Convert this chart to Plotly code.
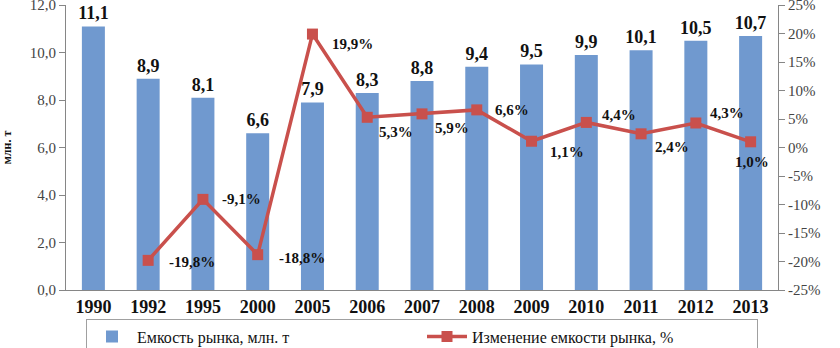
import plotly.graph_objects as go

years = ["1990", "1992", "1995", "2000", "2005", "2006", "2007", "2008", "2009", "2010", "2011", "2012", "2013"]
capacity = [11.1, 8.9, 8.1, 6.6, 7.9, 8.3, 8.8, 9.4, 9.5, 9.9, 10.1, 10.5, 10.7]
change_years = ["1992", "1995", "2000", "2005", "2006", "2007", "2008", "2009", "2010", "2011", "2012", "2013"]
change_pct = [-19.8, -9.1, -18.8, 19.9, 5.3, 5.9, 6.6, 1.1, 4.4, 2.4, 4.3, 1.0]
left_ticks = [0, 2, 4, 6, 8, 10, 12]
right_ticks = [-25, -20, -15, -10, -5, 0, 5, 10, 15, 20, 25]

bar_name = "Емкость рынка, млн. т"
line_name = "Изменение емкости рынка, %"

# label offsets (pixels) for the percentage labels: (xshift of left edge, yshift downwards)
label_offsets = [(19, 2), (17, 0), (19, 3), (18, 10), (10, 15), (11, 14),
                 (16, 0), (16, 11), (14, -7), (12, 13), (12, -10), (-18, 20)]

SERIF = "Times New Roman"
BAR_COLOR = "#7099CF"
LINE_COLOR = "#C9504C"
AXIS_COLOR = "#868686"


def fmt(v):
    return f"{v:.1f}".replace(".", ",")


fig = go.Figure()
fig.add_trace(go.Bar(
    x=years, y=capacity, name=bar_name, marker=dict(color=BAR_COLOR, line=dict(width=0)),
    text=["<b>" + fmt(v) + "</b>" for v in capacity], textposition="outside",
    textfont=dict(family=SERIF, size=18, color="#111111"), cliponaxis=False,
    constraintext="none", width=0.42,
))
fig.add_trace(go.Scatter(
    x=change_years, y=change_pct, name=line_name, yaxis="y2", mode="lines+markers",
    line=dict(color=LINE_COLOR, width=3.5),
    marker=dict(symbol="square", size=11, color=LINE_COLOR),
    cliponaxis=False,
))

for yr, v, (dx, dy) in zip(change_years, change_pct, label_offsets):
    fig.add_annotation(
        x=years.index(yr), y=v, yref="y2", xref="x",
        text="<b>" + fmt(v) + "%</b>",
        showarrow=False, xanchor="left", yanchor="middle",
        xshift=dx, yshift=-dy,
        font=dict(family=SERIF, size=15, color="#111111"),
    )

fig.update_layout(
    width=840, height=348,
    margin=dict(l=66, r=62, t=5, b=58, autoexpand=False),
    paper_bgcolor="white", plot_bgcolor="white",
    font=dict(family=SERIF),
    showlegend=True,
    legend=dict(orientation="h", x=0.5, xanchor="center", y=-0.1, yanchor="top",
                bordercolor="#A0A0A0", borderwidth=1,
                font=dict(family=SERIF, size=16, color="#111111"),
                entrywidth=280, itemwidth=40),
    bargap=0.58,
    xaxis=dict(type="category", categoryorder="array", categoryarray=years,
               range=[-0.5, len(years) - 0.5],
               tickvals=years, ticktext=["<b>" + y + "</b>" for y in years],
               showline=True, linecolor=AXIS_COLOR, linewidth=1,
               ticks="", showgrid=False,
               tickfont=dict(family=SERIF, size=18, color="#111111")),
    yaxis=dict(range=[0, 12.0001], tickvals=left_ticks, ticktext=[fmt(v) for v in left_ticks],
               ticklabeloverflow="allow",
               showline=True, linecolor=AXIS_COLOR, linewidth=1,
               ticks="outside", ticklen=6, tickcolor=AXIS_COLOR, showgrid=False, zeroline=False,
               tickfont=dict(family=SERIF, size=15, color="#444444"),
               title=dict(text="<b>млн. т</b>", standoff=26,
                          font=dict(family="Liberation Sans Narrow", size=12, color="#111111"))),
    yaxis2=dict(range=[-25, 25.0001], tickvals=right_ticks, ticktext=[f"{v}%" for v in right_ticks],
                ticklabeloverflow="allow",
                overlaying="y", side="right",
                showline=True, linecolor=AXIS_COLOR, linewidth=1,
                ticks="outside", ticklen=6, tickcolor=AXIS_COLOR, showgrid=False, zeroline=False,
                tickfont=dict(family=SERIF, size=15, color="#444444")),
)

fig.write_html("out.html", config={"displayModeBar": False},
               post_script="document.body.style.margin='0';document.body.style.overflow='hidden';")
